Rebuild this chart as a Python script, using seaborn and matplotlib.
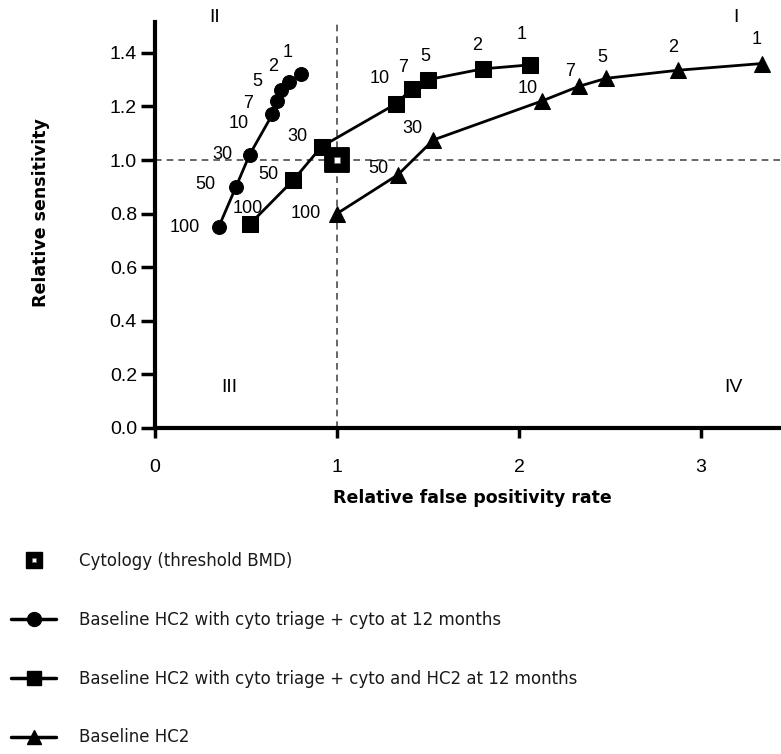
import pandas as pd
import matplotlib
matplotlib.use("Agg")
import matplotlib.pyplot as plt
from matplotlib.lines import Line2D
import seaborn as sns

# cut-off labels for each point, same order in every series
thresholds = ["100", "50", "30", "10", "7", "5", "2", "1"]

# baseline HC2 with cyto triage + cyto at 12 months
cyto_fpr = [0.35, 0.445, 0.52, 0.645, 0.67, 0.69, 0.735, 0.80]
cyto_sens = [0.75, 0.90, 1.02, 1.17, 1.22, 1.26, 1.29, 1.32]

# baseline HC2 with cyto triage + cyto and HC2 at 12 months
cyto_hc2_fpr = [0.52, 0.76, 0.915, 1.325, 1.41, 1.50, 1.80, 2.06]
cyto_hc2_sens = [0.76, 0.925, 1.05, 1.21, 1.265, 1.30, 1.34, 1.355]

# baseline HC2
hc2_fpr = [1.0, 1.335, 1.53, 2.125, 2.33, 2.48, 2.875, 3.335]
hc2_sens = [0.80, 0.945, 1.075, 1.22, 1.275, 1.305, 1.335, 1.36]

# cytology alone (threshold BMD)
cytology_fpr = [1.0]
cytology_sens = [1.0]

legend_labels = [
    "Cytology (threshold BMD)",
    "Baseline HC2 with cyto triage + cyto at 12 months",
    "Baseline HC2 with cyto triage + cyto and HC2 at 12 months",
    "Baseline HC2",
]

# label offsets (pixels, label centre relative to point)
circle_offsets = [(-34, 0), (-31, 2), (-27, 0), (-34, -9), (-29, -2), (-23, 9), (-16, 16), (-13, 22)]
square_offsets = [(-2, 16), (-25, 6), (-24, 10), (-16, 25), (-9, 21), (-3, 23), (-5, 23), (-8, 30)]
triangle_offsets = [(-31, 0), (-20, 6), (-21, 11), (-14, 13), (-9, 15), (-4, 21), (-5, 23), (-5, 24)]

sns.set_style("ticks", {"axes.edgecolor": "black", "text.color": "black",
                        "xtick.color": "black", "ytick.color": "black",
                        "axes.labelcolor": "black"})
plt.rcParams["font.family"] = ["Liberation Sans", "DejaVu Sans"]

fig = plt.figure(figsize=(7.81, 7.54), dpi=100)
ax = fig.add_axes([155 / 781, 1 - 428 / 754, 626 / 781, 406 / 754])

# reference lines at 1
ax.axhline(1.0, color="0.3", lw=1.2, ls=(0, (4, 3)), zorder=1)
ax.axvline(1.0, color="0.3", lw=1.2, ls=(0, (4, 3)), zorder=1)

series = [
    (cyto_fpr, cyto_sens, "o", 10, circle_offsets),
    (cyto_hc2_fpr, cyto_hc2_sens, "s", 11, square_offsets),
    (hc2_fpr, hc2_sens, "^", 11.5, triangle_offsets),
]

for xs, ys, mk, ms, offs in series:
    df = pd.DataFrame({"fpr": xs, "sens": ys})
    sns.lineplot(data=df, x="fpr", y="sens", sort=False, estimator=None,
                 color="black", lw=2, marker=mk, markersize=ms,
                 markeredgecolor="black", markerfacecolor="black", ax=ax, zorder=3)
    for x, y, lab, (dx, dy) in zip(xs, ys, thresholds, offs):
        ax.annotate(lab, (x, y), xytext=(dx * 0.72, dy * 0.72), textcoords="offset points",
                    ha="center", va="center", fontsize=13, zorder=4)

# cytology marker: big black square with small white centre
sns.scatterplot(x=cytology_fpr, y=cytology_sens, marker="s", s=280, color="black",
                edgecolor="black", ax=ax, zorder=5)
sns.scatterplot(x=cytology_fpr, y=cytology_sens, marker="s", s=14, color="white",
                edgecolor="0.4", linewidth=0.5, ax=ax, zorder=6)

ax.set_xlim(0, 3.44)
ax.set_ylim(0, 1.515)
ax.set_xticks([0, 1, 2, 3])
ax.set_yticks([0.0, 0.2, 0.4, 0.6, 0.8, 1.0, 1.2, 1.4])
ax.set_yticklabels(["0.0", "0.2", "0.4", "0.6", "0.8", "1.0", "1.2", "1.4"])

sns.despine(ax=ax)
for sp in ["left", "bottom"]:
    ax.spines[sp].set_linewidth(3)
ax.tick_params(axis="y", direction="out", length=10, width=2.5, labelsize=14, pad=3)
ax.tick_params(axis="x", direction="out", length=7, width=2.5, labelsize=14, pad=15)

ax.set_xlabel("Relative false positivity rate", fontsize=12.5, fontweight="bold",
              family="DejaVu Sans")
ax.set_ylabel("Relative sensitivity", fontsize=12.5, fontweight="bold",
              family="DejaVu Sans")
ax.xaxis.set_label_coords(0.507, -0.15)
ax.yaxis.set_label_coords(-0.168, 0.53)

# quadrant labels
for txt, x, y in [("II", 0.33, 1.53), ("I", 3.19, 1.53), ("III", 0.41, 0.15), ("IV", 3.18, 0.15)]:
    ax.text(x, y, txt, fontsize=14, ha="center", va="center", clip_on=False)

# legend below the plot
cyto_handle = (
    Line2D([], [], ls="none", marker="s", markersize=11, color="black"),
    Line2D([], [], ls="none", marker="s", markersize=3, markerfacecolor="white",
           markeredgecolor="0.4", markeredgewidth=0.5),
)
handles = [
    cyto_handle,
    Line2D([], [], color="black", lw=2.5, marker="o", markersize=10),
    Line2D([], [], color="black", lw=2.5, marker="s", markersize=10),
    Line2D([], [], color="black", lw=2.5, marker="^", markersize=10),
]
leg = fig.legend(handles, legend_labels, loc="upper left", bbox_to_anchor=(6 / 781, 1 - 547 / 754),
                 frameon=False, handlelength=2.7, handletextpad=1.35, labelspacing=2.45,
                 borderaxespad=0, borderpad=0.3, prop={"family": "DejaVu Sans", "size": 12})
for t in leg.get_texts():
    t.set_color("0.1")

fig.savefig("out.png", dpi=100)
